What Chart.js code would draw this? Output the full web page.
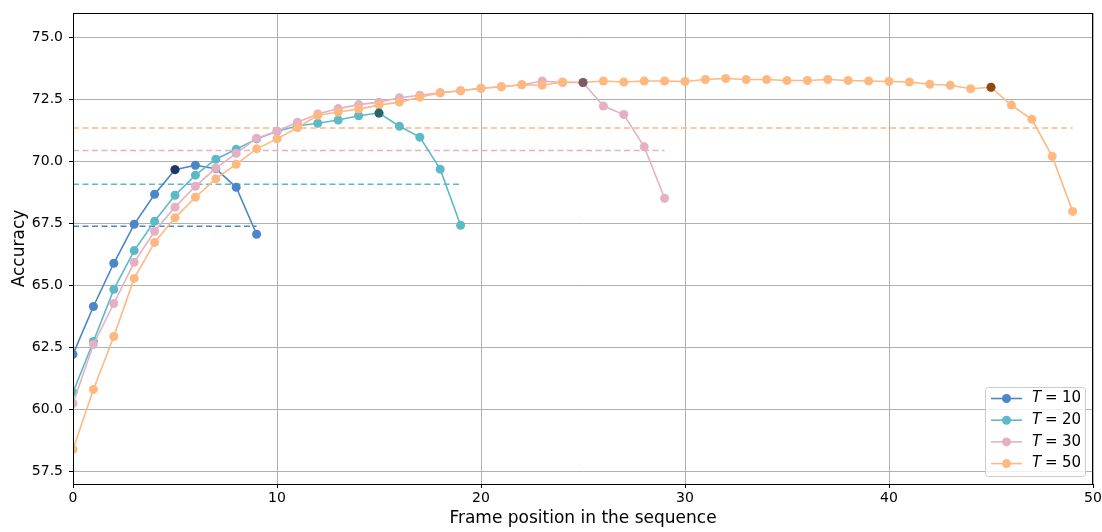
<!DOCTYPE html>
<html>
<head>
<meta charset="utf-8">
<script src="https://cdn.jsdelivr.net/npm/chart.js@4"></script>
<style>
  html, body { margin: 0; padding: 0; background: #fff; }
  #wrap { width: 1102px; height: 532px; }
</style>
</head>
<body>
<div id="wrap"><canvas id="acc" width="1102" height="532"></canvas></div>
<script>
// data
const seqLengths = [10, 20, 30, 50];
const accT10 = [62.22, 64.15, 65.89, 67.46, 68.67, 69.66, 69.84, 69.70, 68.95, 67.06];
const accT20 = [60.69, 62.74, 64.84, 66.40, 67.58, 68.63, 69.44, 70.08, 70.48, 70.90,
                71.21, 71.42, 71.53, 71.66, 71.83, 71.94, 71.41, 70.97, 69.68, 67.42];
const accT30 = [60.24, 62.62, 64.27, 65.93, 67.18, 68.15, 68.99, 69.72, 70.32, 70.93,
                71.21, 71.57, 71.90, 72.12, 72.28, 72.38, 72.56, 72.66, 72.76, 72.84,
                72.94, 73.00, 73.08, 73.23, 73.17, 73.17, 72.22, 71.88, 70.58, 68.51];
const accT50 = [58.39, 60.81, 62.94, 65.28, 66.73, 67.72, 68.55, 69.29, 69.88, 70.50,
                70.90, 71.35, 71.85, 71.98, 72.10, 72.26, 72.38, 72.58, 72.76, 72.84,
                72.94, 73.00, 73.08, 73.06, 73.19, 73.17, 73.23, 73.19, 73.23, 73.23,
                73.21, 73.29, 73.33, 73.29, 73.29, 73.25, 73.25, 73.29, 73.25, 73.23,
                73.21, 73.19, 73.10, 73.06, 72.92, 72.98, 72.26, 71.69, 70.20, 67.98];
const meanAcc = [67.38, 69.07, 70.43, 71.34];
const xTicks = [0, 10, 20, 30, 40, 50];
const yTicks = [57.5, 60.0, 62.5, 65.0, 67.5, 70.0, 72.5, 75.0];

const series = [accT10, accT20, accT30, accT50];
const colors = ["#4a86c8", "#5bbac6", "#e6b0c4", "#ffb880"];
const darkColors = ["#1e3a5f", "#2a6468", "#7e5a68", "#8b4a14"];
const FONT = "'DejaVu Sans', sans-serif";

// ---------- datasets ----------
const datasets = [];
// mean lines underneath everything
series.forEach((vals, k) => {
  datasets.push({
    label: "mean" + seqLengths[k],
    data: [{ x: 0, y: meanAcc[k] }, { x: vals.length - 1, y: meanAcc[k] }],
    borderColor: colors[k],
    borderWidth: 1.5,
    borderDash: [6, 3.5],
    pointRadius: 0,
    order: 20 + k,
    isMean: true
  });
});
// later series drawn on top (like matplotlib)
series.forEach((vals, k) => {
  datasets.push({
    label: "T = " + seqLengths[k],
    data: vals.map((v, i) => ({ x: i, y: v })),
    borderColor: colors[k],
    backgroundColor: colors[k],
    borderWidth: 1.6,
    pointRadius: 4.5,
    pointBorderWidth: 0,
    tension: 0,
    order: 10 - k,
    tValue: seqLengths[k]
  });
});
// darker marker at position T-5, on top of all lines
series.forEach((vals, k) => {
  const hi = seqLengths[k] - 5;
  datasets.push({
    label: "mark" + seqLengths[k],
    data: [{ x: hi, y: vals[hi] }],
    showLine: false,
    backgroundColor: darkColors[k],
    borderColor: darkColors[k],
    pointRadius: 4.5,
    pointBorderWidth: 0,
    order: 4 - k,
    isMark: true
  });
});

// frame (top/right spines) + legend box
const framePlugin = {
  id: "frame",
  afterDraw(chart) {
    const { ctx, chartArea: a } = chart;
    ctx.save();
    ctx.strokeStyle = "#000";
    ctx.lineWidth = 1;
    ctx.strokeRect(a.left + 0.5, a.top + 0.5, a.right - a.left - 1, a.bottom - a.top);

    // legend
    const items = chart.data.datasets.filter(d => d.tValue);
    const bx = 985.5, by = 387.5, bw = 100, bh = 89;
    ctx.fillStyle = "rgba(255,255,255,0.8)";
    ctx.strokeStyle = "#cccccc";
    ctx.beginPath();
    ctx.roundRect ? ctx.roundRect(bx, by, bw, bh, 3) : ctx.rect(bx, by, bw, bh);
    ctx.fill();
    ctx.stroke();
    items.forEach((d, i) => {
      const cy = 398.5 + i * 21.7;
      ctx.strokeStyle = d.borderColor;
      ctx.lineWidth = 1.6;
      ctx.beginPath();
      ctx.moveTo(991, cy);
      ctx.lineTo(1022, cy);
      ctx.stroke();
      ctx.fillStyle = d.borderColor;
      ctx.beginPath();
      ctx.arc(1006.5, cy, 4.5, 0, Math.PI * 2);
      ctx.fill();
      ctx.fillStyle = "#000";
      ctx.textBaseline = "middle";
      ctx.textAlign = "left";
      ctx.font = "italic 15px " + FONT;
      ctx.fillText("T", 1032, cy);
      ctx.font = "15px " + FONT;
      ctx.fillText("=", 1045, cy);
      ctx.fillText(String(d.tValue), 1062, cy);
    });
    ctx.restore();
  }
};

new Chart(document.getElementById("acc").getContext("2d"), {
  type: "line",
  data: { datasets },
  plugins: [framePlugin],
  options: {
    responsive: false,
    animation: false,
    layout: { padding: { top: 13, right: 9, left: 0, bottom: 0 } },
    plugins: { legend: { display: false }, tooltip: { enabled: false } },
    scales: {
      x: {
        type: "linear",
        min: 0, max: 50,
        afterBuildTicks: s => { s.ticks = xTicks.map(v => ({ value: v })); },
        afterFit: s => { s.height = 48; s.paddingRight = 0; s.paddingLeft = 0; },
        grid: { color: "#b0b0b0", lineWidth: 1, tickColor: "#000", tickLength: 4 },
        border: { display: true, color: "#000" },
        ticks: { color: "#000", font: { family: FONT, size: 14 }, padding: 2, maxRotation: 0 },
        title: { display: true, text: "Frame position in the sequence", color: "#000",
                 font: { family: FONT, size: 17 }, padding: { top: 0, bottom: 3 } }
      },
      y: {
        min: 57.0, max: 75.97,
        afterBuildTicks: s => { s.ticks = yTicks.map(v => ({ value: v })); },
        afterFit: s => { s.width = 73; s.paddingTop = 0; s.paddingBottom = 0; },
        grid: { color: "#b0b0b0", lineWidth: 1, tickColor: "#000", tickLength: 4 },
        border: { display: true, color: "#000" },
        ticks: { color: "#000", font: { family: FONT, size: 14 }, padding: 6,
                 callback: v => Number(v).toFixed(1) },
        title: { display: true, text: "Accuracy", color: "#000",
                 font: { family: FONT, size: 17 }, padding: { top: 9, bottom: 4 } }
      }
    }
  }
});
</script>
</body>
</html>
